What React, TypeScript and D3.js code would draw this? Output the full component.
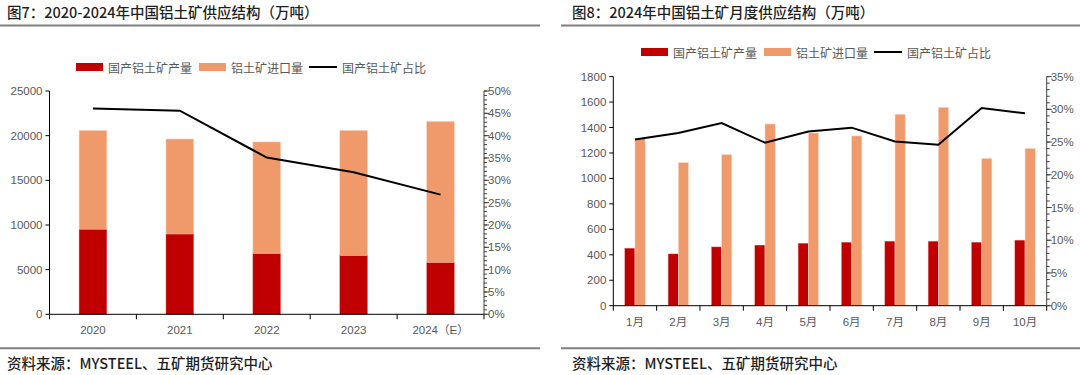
import React from "react";
import * as d3 from "d3";

// ---------- Data ----------
const yearCats = ["2020", "2021", "2022", "2023", "2024（E）"];
const yearDomestic = [9500, 8980, 6780, 6550, 5770];
const yearImport = [11100, 10650, 12520, 14050, 15840];
const yearShare = [46.1, 45.6, 35.1, 31.8, 26.8];

const monthCats = ["1月", "2月", "3月", "4月", "5月", "6月", "7月", "8月", "9月", "10月"];
const monthDomestic = [452, 407, 462, 476, 491, 499, 507, 507, 499, 515];
const monthImport = [1313, 1124, 1187, 1428, 1357, 1334, 1504, 1559, 1157, 1235];
const monthShare = [25.4, 26.4, 27.9, 24.9, 26.6, 27.2, 25.1, 24.6, 30.2, 29.4];

const leftTicks = [0, 5000, 10000, 15000, 20000, 25000];
const leftPctTicks = [0, 5, 10, 15, 20, 25, 30, 35, 40, 45, 50];
const rightTicks = [0, 200, 400, 600, 800, 1000, 1200, 1400, 1600, 1800];
const rightPctTicks = [0, 5, 10, 15, 20, 25, 30, 35];

const legendLabels = ["国产铝土矿产量", "铝土矿进口量", "国产铝土矿占比"];

// ---------- Styles ----------
const RED = "#C00000";
const ORANGE = "#F0996B";
const GRAY_TXT = "#595959";
const FONT = "'Liberation Sans', Arial, 'Noto Sans CJK SC', sans-serif";
const CJK = "'Noto Sans CJK SC', sans-serif";

function Legend({ x, y, items }: { x: number[]; y: number; items: string[] }) {
  return (
    <g fontFamily={CJK} fontSize={12} fill={GRAY_TXT}>
      <rect x={x[0]} y={y - 4} width={27} height={8} fill={RED} />
      <text x={x[0] + 32} y={y} dominantBaseline="central">{items[0]}</text>
      <rect x={x[1]} y={y - 4} width={27} height={8} fill={ORANGE} />
      <text x={x[1] + 32} y={y} dominantBaseline="central">{items[1]}</text>
      <line x1={x[2]} x2={x[2] + 28} y1={y} y2={y} stroke="#000" strokeWidth={2} />
      <text x={x[2] + 33} y={y} dominantBaseline="central">{items[2]}</text>
    </g>
  );
}

function PctAxis({ x, y, max, ticks }: { x: number; y: d3.ScaleLinear<number, number>; max: number; ticks: number[] }) {
  const minor = d3.range(0, max + 1, 1);
  return (
    <g>
      <line x1={x} x2={x} y1={y(max)} y2={y(0)} stroke="#404040" strokeWidth={1} />
      {minor.map((m) => (
        <line key={"m" + m} x1={x} x2={x + 3} y1={y(m)} y2={y(m)} stroke="#404040" strokeWidth={1} />
      ))}
      {ticks.map((t) => (
        <g key={t}>
          <line x1={x} x2={x + 5} y1={y(t)} y2={y(t)} stroke="#404040" strokeWidth={1} />
          <text x={x + 4} y={y(t)} dominantBaseline="central" fontFamily={FONT} fontSize={11.5} fill={GRAY_TXT}>
            {t + "%"}
          </text>
        </g>
      ))}
    </g>
  );
}

function LeftChart() {
  const x0 = 49.5, x1 = 484, top = 91, bottom = 314.3;
  const x = d3.scaleBand<string>().domain(yearCats).range([x0, x1]).padding(0);
  const y = d3.scaleLinear().domain([0, 25000]).range([bottom, top]);
  const yp = d3.scaleLinear().domain([0, 50]).range([bottom, top]);
  const bw = x.bandwidth() * 0.32;
  const line = d3
    .line<number>()
    .x((_, i) => (x(yearCats[i]) as number) + x.bandwidth() / 2)
    .y((d) => yp(d));
  return (
    <g>
      <text x={7} y={18} fontFamily={CJK} fontSize={14.5} fontWeight={500} fill="#1f1f1f">
        图7：2020-2024年中国铝土矿供应结构（万吨）
      </text>
      <line x1={0} x2={540} y1={25.5} y2={25.5} stroke="#7f7f7f" strokeWidth={2} />
      <Legend x={[76, 199, 309]} y={67} items={legendLabels} />
      {yearCats.map((c, i) => {
        const cx = (x(c) as number) + x.bandwidth() / 2;
        return (
          <g key={c}>
            <rect x={cx - bw / 2} y={y(yearDomestic[i] + yearImport[i])} width={bw}
              height={y(yearDomestic[i]) - y(yearDomestic[i] + yearImport[i])} fill={ORANGE}
              stroke="#fbd9c6" strokeWidth={0.6} />
            <rect x={cx - bw / 2} y={y(yearDomestic[i])} width={bw} height={bottom - y(yearDomestic[i])}
              fill={RED} stroke="#e58a8a" strokeWidth={0.4} />
          </g>
        );
      })}
      <path d={line(yearShare) || ""} fill="none" stroke="#000" strokeWidth={2} />
      {/* left axis */}
      <line x1={x0} x2={x0} y1={top} y2={bottom} stroke="#000" />
      {leftTicks.map((t) => (
        <g key={t}>
          <line x1={x0 - 4} x2={x0} y1={y(t)} y2={y(t)} stroke="#000" />
          <text x={x0 - 7} y={y(t)} textAnchor="end" dominantBaseline="central" fontFamily={FONT} fontSize={11.5} fill={GRAY_TXT}>
            {t}
          </text>
        </g>
      ))}
      {/* x axis */}
      <line x1={x0} x2={x1} y1={bottom} y2={bottom} stroke="#000" />
      {yearCats.map((c) => (
        <line key={"t" + c} x1={x(c) as number} x2={x(c) as number} y1={bottom} y2={bottom + 5} stroke="#000" />
      ))}
      <line x1={x1} x2={x1} y1={bottom} y2={bottom + 5} stroke="#000" />
      {yearCats.map((c) => (
        <text key={"l" + c} x={(x(c) as number) + x.bandwidth() / 2} y={330} textAnchor="middle" dominantBaseline="central"
          fontFamily={FONT} fontSize={11.5} fill={GRAY_TXT}>
          {c}
        </text>
      ))}
      <PctAxis x={x1} y={yp} max={50} ticks={leftPctTicks} />
      <line x1={0} x2={540} y1={348.3} y2={348.3} stroke="#7f7f7f" strokeWidth={2} />
      <text x={7} y={369} fontFamily={CJK} fontSize={14.5} fontWeight={500} fill="#1f1f1f">
        资料来源：MYSTEEL、五矿期货研究中心
      </text>
    </g>
  );
}

function RightChart() {
  const x0 = 613.3, x1 = 1046.7, top = 76.6, bottom = 305.7;
  const x = d3.scaleBand<string>().domain(monthCats).range([x0, x1]).padding(0);
  const y = d3.scaleLinear().domain([0, 1800]).range([bottom, top]);
  const yp = d3.scaleLinear().domain([0, 35]).range([bottom, top]);
  const bw = x.bandwidth() * 0.235;
  const line = d3
    .line<number>()
    .x((_, i) => (x(monthCats[i]) as number) + x.bandwidth() / 2)
    .y((d) => yp(d));
  return (
    <g>
      <text x={572} y={18} fontFamily={CJK} fontSize={14.5} fontWeight={500} fill="#1f1f1f">
        图8：2024年中国铝土矿月度供应结构（万吨）
      </text>
      <line x1={561} x2={1080} y1={25.5} y2={25.5} stroke="#7f7f7f" strokeWidth={2} />
      <Legend x={[641, 764, 874]} y={52} items={legendLabels} />
      {monthCats.map((c, i) => {
        const cx = (x(c) as number) + x.bandwidth() / 2;
        return (
          <g key={c}>
            <rect x={cx - bw} y={y(monthDomestic[i])} width={bw} height={bottom - y(monthDomestic[i])}
              fill={RED} stroke="#e58a8a" strokeWidth={0.4} />
            <rect x={cx} y={y(monthImport[i])} width={bw} height={bottom - y(monthImport[i])}
              fill={ORANGE} stroke="#fbd9c6" strokeWidth={0.6} />
          </g>
        );
      })}
      <path d={line(monthShare) || ""} fill="none" stroke="#000" strokeWidth={2} />
      <line x1={x0} x2={x0} y1={top} y2={bottom} stroke="#000" />
      {rightTicks.map((t) => (
        <g key={t}>
          <line x1={x0 - 4} x2={x0} y1={y(t)} y2={y(t)} stroke="#000" />
          <text x={x0 - 7} y={y(t)} textAnchor="end" dominantBaseline="central" fontFamily={FONT} fontSize={11.5} fill={GRAY_TXT}>
            {t}
          </text>
        </g>
      ))}
      <line x1={x0} x2={x1} y1={bottom} y2={bottom} stroke="#000" />
      {monthCats.map((c) => (
        <line key={"t" + c} x1={x(c) as number} x2={x(c) as number} y1={bottom} y2={bottom + 5} stroke="#000" />
      ))}
      <line x1={x1} x2={x1} y1={bottom} y2={bottom + 5} stroke="#000" />
      {monthCats.map((c) => (
        <text key={"l" + c} x={(x(c) as number) + x.bandwidth() / 2} y={321.5} textAnchor="middle" dominantBaseline="central"
          fontFamily={FONT} fontSize={11.5} fill={GRAY_TXT}>
          {c}
        </text>
      ))}
      <PctAxis x={x1} y={yp} max={35} ticks={rightPctTicks} />
      <line x1={561} x2={1080} y1={348.3} y2={348.3} stroke="#7f7f7f" strokeWidth={2} />
      <text x={572} y={369} fontFamily={CJK} fontSize={14.5} fontWeight={500} fill="#1f1f1f">
        资料来源：MYSTEEL、五矿期货研究中心
      </text>
    </g>
  );
}

export default function App() {
  return (
    <div style={{ position: "absolute", left: 0, top: 0 }}>
      <svg width={1080} height={375} style={{ display: "block", background: "#fff" }}>
        <rect width={1080} height={375} fill="#fff" />
        <LeftChart />
        <RightChart />
      </svg>
    </div>
  );
}
